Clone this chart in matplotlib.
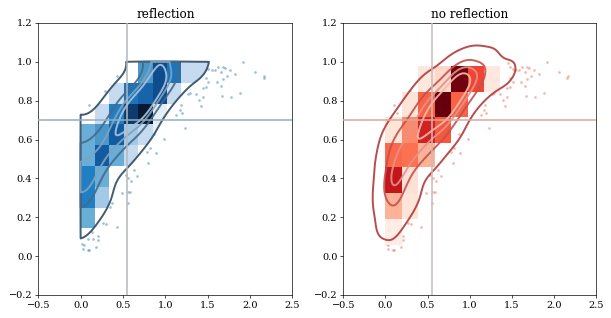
import numpy as np
import matplotlib
matplotlib.use("Agg")
import matplotlib.pyplot as plt
from matplotlib.colors import LinearSegmentedColormap

plt.rcParams['font.family'] = ['DejaVu Serif']

# ---------------- data ----------------
pts_x = [1.92, 2.06, 2.17, 2.16, 1.68, 1.70, 1.62, 1.66, 1.59, 1.55, 1.51, 1.48, 1.46,
         1.76, 1.82, 1.73, 1.68, 1.61, 1.48, 1.51, 1.48, 1.66, 1.88, 1.78, 1.67, 1.44,
         1.36, 1.44, 1.40, 1.42, 1.29, 1.27, 1.18, 1.17, 1.20, 1.13, 1.23, 0.98, 0.87,
         0.82, 0.78, 0.89, 0.29, 0.10, 0.135, 0.264, 0.43, 0.52,
         0.80, 0.63, 0.66, 0.53, 0.56, 0.60, 0.485, 0.56, 0.585, 0.555, 0.367, 0.347,
         0.426, 0.268, 0.30, 0.13, 0.21, 0.15, 0.09, 0.21, 0.02, 0.035, 0.18, 0.09,
         0.03, 0.10]
pts_y = [0.997, 0.946, 0.928, 0.918, 0.975, 0.966, 0.975, 0.949, 0.958, 0.958, 0.961, 0.971, 0.992,
         0.958, 0.937, 0.927, 0.910, 0.898, 0.918, 0.898, 0.872, 0.877, 0.838, 0.817, 0.824, 0.864,
         0.832, 0.817, 0.803, 0.772, 0.838, 0.832, 0.778, 0.752, 0.735, 0.726, 0.661, 0.601, 0.628,
         0.555, 0.534, 0.529, 0.851, 0.776, 0.735, 0.807, 0.927, 0.958,
         0.478, 0.443, 0.412, 0.420, 0.400, 0.386, 0.323, 0.328, 0.331, 0.272, 0.272, 0.254,
         0.151, 0.169, 0.163, 0.122, 0.105, 0.086, 0.088, 0.083, 0.064, 0.058, 0.045, 0.031,
         0.036, 0.031]

# histogram, "no reflection" panel (rows bottom -> top)
r_xedges = [0.0, 0.195, 0.39, 0.585, 0.78, 0.975, 1.17, 1.365]
r_yedges = [0.057, 0.19, 0.323, 0.457, 0.584, 0.717, 0.846, 0.98]
r_counts = [
    [10, 0, 0, 0, 0, 0, 0],
    [56, 20, 0, 0, 0, 0, 0],
    [156, 24, 0, 0, 0, 0, 0],
    [100, 96, 56, 0, 0, 0, 0],
    [20, 80, 144, 110, 0, 0, 0],
    [0, 20, 104, 200, 104, 0, 0],
    [0, 0, 16, 30, 196, 120, 16],
]

# histogram, "reflection" panel (rows bottom -> top)
l_xedges = [0.0, 0.17, 0.34, 0.51, 0.68, 0.85, 1.02, 1.19, 1.36, 1.53]
l_yedges = [0.036, 0.143, 0.25, 0.357, 0.464, 0.571, 0.678, 0.785, 0.892, 1.0]
l_counts = [
    [4, 0, 0, 0, 0, 0, 0, 0, 0],
    [100, 0, 0, 0, 0, 0, 0, 0, 0],
    [136, 70, 0, 0, 0, 0, 0, 0, 0],
    [136, 100, 0, 0, 0, 0, 0, 0, 0],
    [100, 164, 100, 50, 0, 0, 0, 0, 0],
    [100, 120, 164, 70, 50, 20, 0, 0, 0],
    [0, 50, 136, 184, 200, 24, 0, 0, 0],
    [0, 0, 50, 144, 156, 176, 50, 0, 0],
    [0, 0, 0, 0, 120, 176, 144, 50, 50],
]

n_main = 3000          # assumed number of observations inside the binned body
x_bound = 0.0          # lower boundary for reflection
y_bound = 1.0          # upper boundary for reflection
vline_x = 0.548
hline_y = 0.70
iso_props = [0.05, 0.2875, 0.525, 0.7625]
bw_adjust = 1.15

# ---------------- KDE helpers ----------------
def cells_to_sample(xe, ye, counts, total, k=4):
    xe, ye, c = np.array(xe), np.array(ye), np.array(counts, float)
    c = c / c.sum() * total
    xs, ys, ws = [], [], []
    for j in range(c.shape[0]):
        for i in range(c.shape[1]):
            if c[j, i] <= 0:
                continue
            for a in range(k):
                for b in range(k):
                    xs.append(xe[i] + (a + 0.5) / k * (xe[i + 1] - xe[i]))
                    ys.append(ye[j] + (b + 0.5) / k * (ye[j + 1] - ye[j]))
                    ws.append(c[j, i] / k / k)
    return xs, ys, ws


def kde_sample():
    xs, ys, ws = list(pts_x), list(pts_y), [1.0] * len(pts_x)
    for xe, ye, cc in ((r_xedges, r_yedges, r_counts), (l_xedges, l_yedges, l_counts)):
        a, b, c = cells_to_sample(xe, ye, cc, n_main / 2)
        xs += a
        ys += b
        ws += c
    return np.array(xs), np.array(ys), np.array(ws)


def kde_eval(X, Y, xs, ys, ws, cov):
    inv = np.linalg.inv(cov)
    d = np.zeros_like(X)
    for xi, yi, wi in zip(xs, ys, ws):
        dx = X - xi
        dy = Y - yi
        q = inv[0, 0] * dx * dx + 2 * inv[0, 1] * dx * dy + inv[1, 1] * dy * dy
        d += wi * np.exp(-0.5 * q)
    return d


def quantile_levels(dens):
    v = np.sort(dens.ravel())[::-1]
    cum = np.cumsum(v) / v.sum()
    idx = np.searchsorted(cum, 1 - np.array(iso_props))
    return np.take(v, idx, mode="clip")


xs, ys, ws = kde_sample()
W = ws.sum()
cov = np.cov(np.vstack([xs, ys]), aweights=ws)
fac = W ** (-1.0 / 6.0) * bw_adjust
kcov = cov * fac ** 2

# ---------------- figure ----------------
dpi = 61.1
fig = plt.figure(figsize=(611 / dpi, 318 / dpi), dpi=dpi)
axL = fig.add_axes([38.3 / 611, 23 / 318, 254 / 611, 272 / 318])
axR = fig.add_axes([343.3 / 611, 23 / 318, 252.7 / 611, 272 / 318])

blues_x = LinearSegmentedColormap.from_list(
    "bx", [(0.0, "#ffffff"), (0.25, "#c6dbef"), (0.5, "#6aaed6"), (0.6, "#4a97c9"),
           (0.68, "#2080c4"), (0.78, "#1764ab"), (0.88, "#0e4d8f"), (1.0, "#061a33")])

# ---- left: reflection ----
ax = axL
ax.scatter(pts_x, pts_y, s=10, color="#1f77b4", alpha=0.45, lw=0, zorder=1)
mesh = ax.pcolormesh(l_xedges, l_yedges, np.array(l_counts, float), cmap=blues_x,
                     vmin=0, vmax=200, zorder=2)
gx = np.concatenate([[x_bound - 0.002], np.linspace(x_bound, 2.5, 200)])
gy = np.concatenate([np.linspace(-0.2, y_bound, 180), [y_bound + 0.002]])
X, Y = np.meshgrid(gx, gy)
dens = (kde_eval(X, Y, xs, ys, ws, kcov)
        + kde_eval(X, Y, 2 * x_bound - xs, ys, ws, kcov)
        + kde_eval(X, Y, xs, 2 * y_bound - ys, ws, kcov)
        + kde_eval(X, Y, 2 * x_bound - xs, 2 * y_bound - ys, ws, kcov))
dens[(X < x_bound) | (Y > y_bound)] = 0.0
valid = dens[(X >= x_bound) & (Y <= y_bound)]
levL = quantile_levels(valid)
csL = ax.contour(X, Y, dens, levels=levL,
                 colors=["#2e4a5f", "#46698a", "#7fa3c0", "#abc5da"],
                 linewidths=2.3, alpha=0.9, zorder=3)
mesh.set_clip_path(csL.get_paths()[0], transform=ax.transData)
ax.axvline(vline_x, color="#b4b8bc", lw=1.8, zorder=4)
ax.axhline(hline_y, color="#93adc2", lw=1.8, zorder=4)
ax.set_title("reflection", fontsize=14)

# ---- right: no reflection ----
ax = axR
ax.scatter(pts_x, pts_y, s=10, color="#f0603f", alpha=0.45, lw=0, zorder=1)
rc = np.ma.masked_less_equal(np.array(r_counts, float), 0)
ax.pcolormesh(r_xedges, r_yedges, rc, cmap="Reds", vmin=0, vmax=200, zorder=2)
gx = np.linspace(-0.5, 2.5, 220)
gy = np.linspace(-0.2, 1.2, 180)
X, Y = np.meshgrid(gx, gy)
dens = kde_eval(X, Y, xs, ys, ws, kcov)
levR = quantile_levels(dens)
ax.contour(X, Y, dens, levels=levR,
           colors=["#b03a3c", "#c4504d", "#e2938a", "#f0bcae"],
           linewidths=2.3, alpha=0.9, zorder=3)
ax.axvline(vline_x, color="#c8bab6", lw=1.8, zorder=4)
ax.axhline(hline_y, color="#d9a89d", lw=1.8, zorder=4)
ax.set_title("no reflection", fontsize=14)

for ax in (axL, axR):
    ax.set_xlim(-0.5, 2.5)
    ax.set_ylim(-0.2, 1.2)
    ax.set_xticks(np.arange(-0.5, 2.51, 0.5))
    ax.set_yticks(np.arange(-0.2, 1.21, 0.2))
    ax.tick_params(labelsize=11.5)

fig.savefig("out.png", dpi=dpi)
